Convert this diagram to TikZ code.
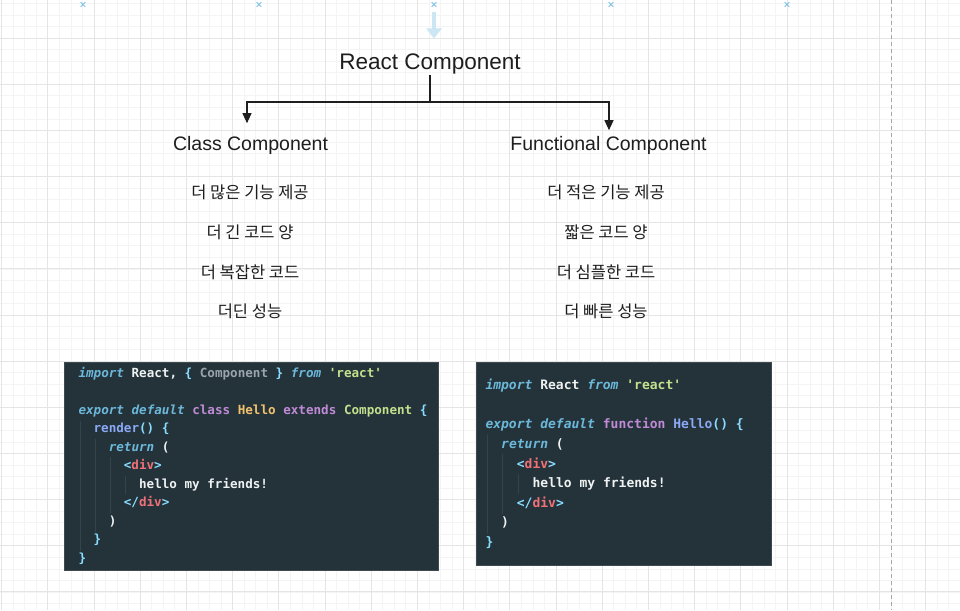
\documentclass[tikz,border=0pt]{standalone}
\usepackage{fontspec}
\setmainfont{Liberation Sans}
\setmonofont{DejaVu Sans Mono}
\newfontfamily\krfont{Noto Sans CJK KR}
\usetikzlibrary{arrows.meta}
\definecolor{gridminor}{HTML}{F4F4F4}
\definecolor{gridmajor}{HTML}{E5E5E5}
\definecolor{codebg}{HTML}{243239}
\definecolor{codeedge}{HTML}{3E4A50}
\definecolor{guide}{HTML}{34444C}
\definecolor{ckw}{HTML}{6CB8DA}
\definecolor{cpur}{HTML}{C08BD6}
\definecolor{cyel}{HTML}{F2C26E}
\definecolor{cgrn}{HTML}{C3E08D}
\definecolor{cblu}{HTML}{8AA8F5}
\definecolor{ccyan}{HTML}{89DDFF}
\definecolor{cred}{HTML}{F07178}
\definecolor{cwht}{HTML}{EEF2F2}
\definecolor{cgry}{HTML}{9AA5AB}
\definecolor{markblue}{HTML}{7DBFE6}
\definecolor{arrowblue}{HTML}{CDE6F4}
\definecolor{dashcol}{HTML}{A8A8A8}
\definecolor{txt}{HTML}{1E1E1E}
\newcommand\Ckw[1]{{\color{ckw}\itshape #1}}
\newcommand\Cpu[1]{{\color{cpur}#1}}
\newcommand\Cye[1]{{\color{cyel}#1}}
\newcommand\Cgr[1]{{\color{cgrn}#1}}
\newcommand\Cbl[1]{{\color{cblu}#1}}
\newcommand\Ccy[1]{{\color{ccyan}#1}}
\newcommand\Cre[1]{{\color{cred}#1}}
\newcommand\Cwh[1]{{\color{cwht}#1}}
\newcommand\Cgy[1]{{\color{cgry}#1}}
\tikzset{
  gminor/.style={draw=gridminor, line width=0.6pt},
  gmajor/.style={draw=gridmajor, line width=0.8pt},
  title/.style={font=\fontsize{22.5}{27}\selectfont, text=txt, inner sep=0pt, anchor=base},
  sub/.style={font=\fontsize{19.5}{23}\selectfont, text=txt, inner sep=0pt, anchor=base},
  kr/.style={font=\krfont\fontsize{16.5}{19}\selectfont, text=txt, inner sep=0pt},
  conn/.style={draw=txt, line width=1.1pt},
  arr/.style={conn, -{Triangle[width=9pt,length=10pt]}},
  codebox/.style={fill=codebg, draw=codeedge, line width=0.6pt, inner sep=0pt, anchor=north west},
  codeL/.style={font=\ttfamily\bfseries\frenchspacing\fontsize{12.6}{15}\selectfont, inner sep=0pt, anchor=west, text height=9pt, text depth=3pt, text=cwht},
  codeR/.style={font=\ttfamily\bfseries\frenchspacing\fontsize{13}{15}\selectfont, inner sep=0pt, anchor=west, text height=9pt, text depth=3pt, text=cwht},
  igd/.style={draw=guide, line width=0.7pt},
  xmark/.style={draw=markblue, line width=0.8pt}
}
\begin{document}
\begin{tikzpicture}[x=1pt, y=-1pt]
\useasboundingbox (0,0) rectangle (960,610);
\fill[white] (0,0) rectangle (960,610);
% grid
\foreach \k in {0,...,83} \draw[gminor] ({1.5+11.55*\k},0) -- ({1.5+11.55*\k},610);
\foreach \k in {0,...,52} \draw[gminor] (0,{3.4+11.54*\k}) -- (960,{3.4+11.54*\k});
\foreach \k in {0,...,20} \draw[gmajor] ({1.5+46.2*\k},0) -- ({1.5+46.2*\k},610);
\foreach \k in {0,...,12} \draw[gmajor] (0,{38+46.15*\k}) -- (960,{38+46.15*\k});
% top markers
\foreach \x in {83,259,434,611,787} {
  \draw[xmark] (\x-2.3,2.2) -- (\x+2.3,6.8);
  \draw[xmark] (\x-2.3,6.8) -- (\x+2.3,2.2);
}
\draw[arrowblue, line width=4pt, -{Triangle[width=15pt,length=10pt]}] (434,12) -- (434,38.5);
\draw[dashcol, line width=0.8pt, dash pattern=on 4pt off 3pt] (891,0) -- (891,610);
% hierarchy
\node[title] (rc) at (430,70) {React Component};
\node[sub] (cc) at (250.5,150) {Class Component};
\node[sub] (fc) at (608.5,150) {Functional Component};
\coordinate (j) at (430,102);
\draw[conn] (rc.south) -- (j);
\draw[arr] (j) -| ([xshift=-3.5pt,yshift=12.5pt]cc.north);
\draw[arr] (j) -| ([xshift=0.5pt,yshift=5.5pt]fc.north);
% korean lists
\node[kr] (l1) at (250,192.5) {더 많은 기능 제공};
\node[kr] (l2) at (250,232.5) {더 긴 코드 양};
\node[kr] (l3) at (250,272) {더 복잡한 코드};
\node[kr] (l4) at (250,311.5) {더딘 성능};
\node[kr] (r1) at (606,192.5) {더 적은 기능 제공};
\node[kr] (r2) at (606,232.5) {짧은 코드 양};
\node[kr] (r3) at (606,272) {더 심플한 코드};
\node[kr] (r4) at (606,311.5) {더 빠른 성능};
% left code box
\node[codebox, minimum width=374.5pt, minimum height=208.5pt] (boxL) at (63.5,361.5) {};
\draw[igd] (80,421) -- (80,551);
\draw[igd] (95.5,439) -- (95.5,532);
\draw[igd] (110.5,457) -- (110.5,513);
\draw[igd] (125.5,476) -- (125.5,494);
\node[codeL] (a1) at (78.3,374.2) {\Ckw{import} \Cwh{React,} \Ccy{\{} \Cgy{Component} \Ccy{\}} \Ckw{from} \Cgr{'react'}};
\node[codeL] (a2) at (78.3,411.2) {\Ckw{export default} \Cpu{class} \Cye{Hello} \Cpu{extends} \Cgr{Component} \Ccy{\{}};
\node[codeL] (a3) at (93.4,429.7) {\Cbl{render}\Ccy{() \{}};
\node[codeL] (a4) at (108.6,448.2) {\Ckw{return} \Cwh{(}};
\node[codeL] (a5) at (123.7,466.7) {\Ccy{<}\Cre{div}\Ccy{>}};
\node[codeL] (a6) at (138.9,485.2) {\Cwh{hello my friends!}};
\node[codeL] (a7) at (123.7,503.7) {\Ccy{</}\Cre{div}\Ccy{>}};
\node[codeL] (a8) at (108.6,522.2) {\Cwh{)}};
\node[codeL] (a9) at (93.4,540.7) {\Ccy{\}}};
\node[codeL] (a10) at (78.3,559.2) {\Ccy{\}}};
% right code box
\node[codebox, minimum width=295pt, minimum height=203pt] (boxR) at (475.5,362) {};
\draw[igd] (487,435) -- (487,533);
\draw[igd] (502.5,454) -- (502.5,514);
\draw[igd] (518,474) -- (518,494);
\node[codeR] (b1) at (485.3,386.5) {\Ckw{import} \Cwh{React} \Ckw{from} \Cgr{'react'}};
\node[codeR] (b2) at (485.3,425.7) {\Ckw{export default} \Cpu{function} \Cbl{Hello}\Ccy{() \{}};
\node[codeR] (b3) at (501,445.3) {\Ckw{return} \Cwh{(}};
\node[codeR] (b4) at (516.7,465) {\Ccy{<}\Cre{div}\Ccy{>}};
\node[codeR] (b5) at (532.4,484.5) {\Cwh{hello my friends!}};
\node[codeR] (b6) at (516.7,504.2) {\Ccy{</}\Cre{div}\Ccy{>}};
\node[codeR] (b7) at (501,523.8) {\Cwh{)}};
\node[codeR] (b8) at (485.3,543.4) {\Ccy{\}}};
\end{tikzpicture}
\end{document}
